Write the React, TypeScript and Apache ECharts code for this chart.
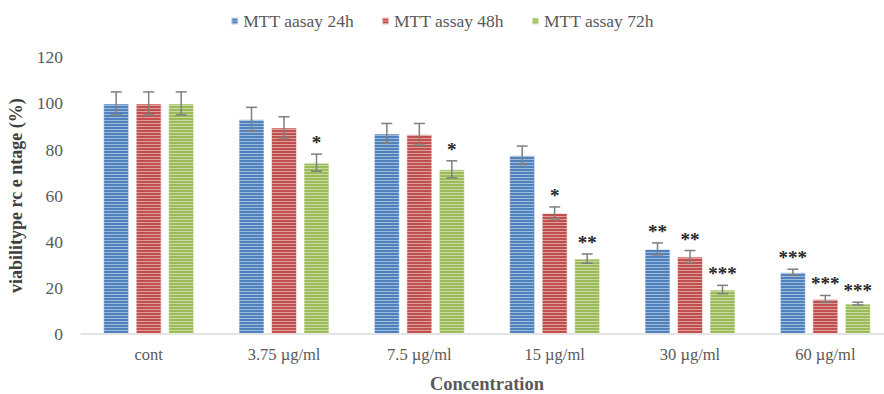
import React, { useEffect, useRef } from "react";
import * as echarts from "echarts";

const categories = ["cont", "3.75 µg/ml", "7.5 µg/ml", "15 µg/ml", "30 µg/ml", "60 µg/ml"];
const seriesNames = ["MTT aasay 24h", "MTT assay 48h", "MTT assay 72h"];
const values24 = [100, 93.1, 87.0, 77.5, 36.9, 26.8];
const values48 = [100, 89.6, 86.6, 52.5, 33.6, 15.2];
const values72 = [100, 74.3, 71.4, 32.7, 19.3, 13.2];
const err24 = [5, 5.2, 4.3, 4, 2.6, 1.3];
const err48 = [5, 4.6, 4.7, 2.6, 2.6, 1.5];
const err72 = [5, 3.7, 3.7, 2, 1.8, 0.6];
const sig24 = ["", "", "", "", "**", "***"];
const sig48 = ["", "", "", "*", "**", "***"];
const sig72 = ["", "*", "*", "**", "***", "***"];
const yTicks = { min: 0, max: 120, interval: 20 };

const colors = ["#4F81BD", "#C0504D", "#9BBB59"];
const FONT = "'Liberation Serif', 'Times New Roman', serif";

export default function App() {
  const ref = useRef<HTMLDivElement>(null);
  useEffect(() => {
    if (!ref.current) return;
    const chart = echarts.init(ref.current, null, { renderer: "svg" });
    const allVals = [values24, values48, values72];
    const allErr = [err24, err48, err72];
    const allSig = [sig24, sig48, sig72];
    const barWidth = 26;
    const barGapPx = 6.5;
    const barSeries = allVals.map((vals, i) => ({
      name: seriesNames[i],
      type: "bar",
      data: vals,
      barWidth,
      barGap: "25%",
      itemStyle: {
        color: colors[i],
        borderColor: "rgba(255,255,255,0.35)",
        borderWidth: 1,
        decal: {
          symbol: "rect",
          symbolSize: 1,
          dashArrayX: [1, 0],
          dashArrayY: [1, 2],
          color: "rgba(255,255,255,0.45)",
          rotation: 0,
        },
      },
      z: 2,
    }));
    const errSeries = allVals.map((vals, i) => ({
      type: "custom",
      name: seriesNames[i] + " err",
      data: vals.map((v, j) => [j, v, allErr[i][j]]),
      z: 5,
      renderItem: (params: any, api: any) => {
        const idx = api.value(0);
        const v = api.value(1);
        const e = api.value(2);
        const sig = allSig[i][idx];
        const off = (i - 1) * (barWidth + barGapPx);
        const top = api.coord([idx, v + e]);
        const bot = api.coord([idx, v - e]);
        const x = top[0] + off;
        const cap = 5.5;
        const style = { stroke: "#7F7F7F", lineWidth: 1.5 };
        const children: any[] = [
          { type: "line", shape: { x1: x, y1: top[1], x2: x, y2: bot[1] }, style },
          { type: "line", shape: { x1: x - cap, y1: top[1], x2: x + cap, y2: top[1] }, style },
          { type: "line", shape: { x1: x - cap, y1: bot[1], x2: x + cap, y2: bot[1] }, style },
        ];
        if (sig) {
          children.push({
            type: "text",
            style: {
              text: sig,
              x,
              y: top[1] - 2,
              align: "center",
              verticalAlign: "bottom",
              fill: "#262626",
              font: `bold 19px ${FONT}`,
            },
          });
        }
        return { type: "group", children };
      },
    }));
    chart.setOption({
      animation: false,
      legend: {
        data: seriesNames,
        top: 7,
        left: "center",
        itemWidth: 7,
        itemHeight: 7,
        itemGap: 27,
        icon: "rect",
        textStyle: { fontFamily: FONT, fontSize: 17.5, color: "#595959" },
      },
      grid: { left: 81, top: 57.3, bottom: 60, width: 812, containLabel: false, outerBoundsMode: "none" },
      xAxis: {
        type: "category",
        data: categories,
        axisLine: { lineStyle: { color: "#D9D9D9", width: 1.5 } },
        axisTick: { show: false },
        axisLabel: { fontFamily: FONT, fontSize: 16.5, color: "#595959", margin: 12 },
        name: "Concentration",
        nameLocation: "middle",
        nameGap: 40,
        nameTextStyle: { fontFamily: FONT, fontSize: 18.5, fontWeight: "bold", color: "#595959" },
      },
      yAxis: {
        type: "value",
        min: yTicks.min,
        max: yTicks.max,
        interval: yTicks.interval,
        axisLine: { show: false },
        axisTick: { show: false },
        splitLine: { show: false },
        axisLabel: { fontFamily: FONT, fontSize: 17.5, color: "#595959", margin: 18 },
        name: "viabilitype rc e ntage (%)",
        nameLocation: "middle",
        nameGap: 56,
        nameTextStyle: { fontFamily: FONT, fontSize: 18, fontWeight: "bold", color: "#404040" },
      },
      series: [...barSeries, ...errSeries],
    });
    return () => chart.dispose();
  }, []);
  return <div ref={ref} style={{ width: 884, height: 394, position: "absolute", left: 0, top: 0 }} />;
}
